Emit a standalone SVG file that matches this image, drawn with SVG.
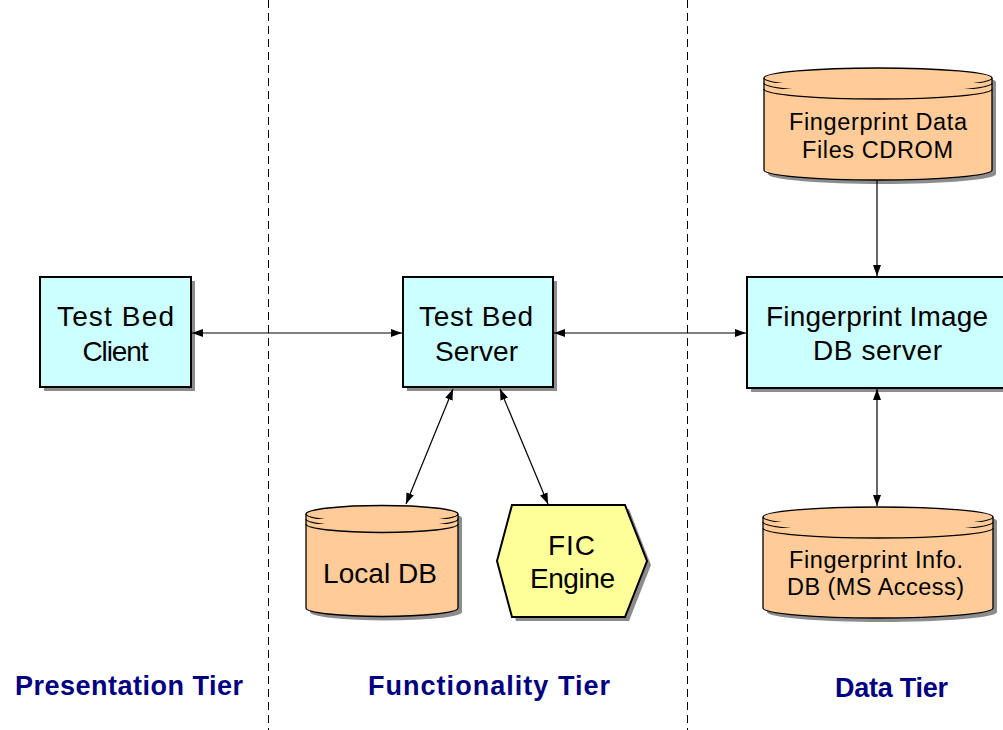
<svg xmlns="http://www.w3.org/2000/svg" width="1003" height="730" viewBox="0 0 1003 730">
<style>
.box{fill:#ccffff;stroke:#000;stroke-width:2}
.cyl{fill:#ffcc99;stroke:#000;stroke-width:1.3}
.hex{fill:#ffff99;stroke:#000;stroke-width:2}
.shadow{fill:#8c8c8c;stroke:none}
.t{font-family:"Liberation Sans",Arial,sans-serif;fill:#000;text-anchor:middle}
.big{font-size:28px}
.small{font-size:23.5px}
.tier{font-family:"Liberation Sans",Arial,sans-serif;font-weight:bold;font-size:27px;fill:#000080;text-anchor:middle}
.divider{stroke:#000;stroke-width:1;stroke-dasharray:8 5}
.conn{stroke:#000;stroke-width:1.2;fill:none}
</style>
<defs>
<marker id="arr" markerUnits="userSpaceOnUse" markerWidth="12" markerHeight="9" refX="11" refY="4" orient="auto-start-reverse">
<path d="M0,0 L11,4 L0,8 z" fill="#000"/>
</marker>
</defs>
<rect width="1003" height="730" fill="#fff"/>
<g id="dividers">
<line class="divider" x1="268.5" y1="0" x2="268.5" y2="730"/>
<line class="divider" x1="687.5" y1="0" x2="687.5" y2="730"/>
</g>
<g id="client">
<rect class="shadow" x="44" y="281" width="151" height="110"/>
<rect class="box" x="40" y="277" width="151" height="110"/>
<text class="t big" x="115.5" y="326" textLength="117" lengthAdjust="spacing">Test Bed</text>
<text class="t big" x="115.5" y="361" textLength="66" lengthAdjust="spacing">Client</text>
</g>
<g id="server">
<rect class="shadow" x="407" y="281" width="150" height="110"/>
<rect class="box" x="403" y="277" width="150" height="110"/>
<text class="t big" x="476" y="326" textLength="114" lengthAdjust="spacing">Test Bed</text>
<text class="t big" x="476.5" y="361" textLength="83" lengthAdjust="spacing">Server</text>
</g>
<g id="fpimage">
<rect class="shadow" x="751" y="281" width="260" height="111"/>
<rect class="box" x="747" y="277" width="260" height="111"/>
<text class="t big" x="877" y="326" textLength="222" lengthAdjust="spacing">Fingerprint Image</text>
<text class="t big" x="877.5" y="360" textLength="129" lengthAdjust="spacing">DB server</text>
</g>
<g id="cdrom">
<path class="shadow" d="M768,82 A114,10 0 0 1 996,82 L996,174 A114,10 0 0 1 768,174 Z"/>
<path class="cyl" d="M764,78 A114,10 0 0 1 992,78 L992,170 A114,10 0 0 1 764,170 Z"/>
<path class="cyl" d="M764,78 A114,10 0 0 0 992,78" fill="none"/>
<path class="cyl" d="M764,83 A114,10 0 0 0 992,83" fill="none"/>
<path class="cyl" d="M764,89 A114,10 0 0 0 992,89" fill="none"/>
<text class="t small" x="878" y="130" textLength="178" lengthAdjust="spacing">Fingerprint Data</text>
<text class="t small" x="877.5" y="158" textLength="151" lengthAdjust="spacing">Files CDROM</text>
</g>
<g id="localdb">
<path class="shadow" d="M310,518 A76,8.5 0 0 1 462,518 L462,612 A76,8.5 0 0 1 310,612 Z"/>
<path class="cyl" d="M306,514 A76,8.5 0 0 1 458,514 L458,608 A76,8.5 0 0 1 306,608 Z"/>
<path class="cyl" d="M306,514 A76,8.5 0 0 0 458,514" fill="none"/>
<path class="cyl" d="M306,519 A76,8.5 0 0 0 458,519" fill="none"/>
<path class="cyl" d="M306,524 A76,8.5 0 0 0 458,524" fill="none"/>
<text class="t big" x="380" y="583" textLength="114" lengthAdjust="spacing">Local DB</text>
</g>
<g id="fic">
<polygon class="shadow" points="501,565 516,509 629,509 651,565 629,621 516,621"/>
<polygon class="hex" points="497,561 512,505 625,505 647,561 625,617 512,617"/>
<text class="t big" x="571.5" y="555" textLength="47" lengthAdjust="spacing">FIC</text>
<text class="t big" x="572.5" y="588" textLength="85" lengthAdjust="spacing">Engine</text>
</g>
<g id="infodb">
<path class="shadow" d="M767,521 A115,10 0 0 1 997,521 L997,612 A115,10 0 0 1 767,612 Z"/>
<path class="cyl" d="M763,517 A115,10 0 0 1 993,517 L993,608 A115,10 0 0 1 763,608 Z"/>
<path class="cyl" d="M763,517 A115,10 0 0 0 993,517" fill="none"/>
<path class="cyl" d="M763,522 A115,10 0 0 0 993,522" fill="none"/>
<path class="cyl" d="M763,528 A115,10 0 0 0 993,528" fill="none"/>
<text class="t small" x="876" y="568" textLength="174" lengthAdjust="spacing">Fingerprint Info.</text>
<text class="t small" x="875.5" y="595" textLength="177" lengthAdjust="spacing">DB (MS Access)</text>
</g>
<g id="connectors">
<line class="conn" x1="192" y1="333" x2="402" y2="333" marker-start="url(#arr)" marker-end="url(#arr)"/>
<line class="conn" x1="554" y1="333" x2="746" y2="333" marker-start="url(#arr)" marker-end="url(#arr)"/>
<line class="conn" x1="877" y1="180" x2="877" y2="276" marker-end="url(#arr)"/>
<line class="conn" x1="877" y1="389" x2="877" y2="506" marker-start="url(#arr)" marker-end="url(#arr)"/>
<line class="conn" x1="453" y1="389" x2="406" y2="504" marker-start="url(#arr)" marker-end="url(#arr)"/>
<line class="conn" x1="500" y1="389" x2="548" y2="504" marker-start="url(#arr)" marker-end="url(#arr)"/>
</g>
<g id="labels">
<text class="tier" x="129" y="695" textLength="228" lengthAdjust="spacing">Presentation Tier</text>
<text class="tier" x="489" y="695" textLength="242" lengthAdjust="spacing">Functionality Tier</text>
<text class="tier" x="891.5" y="697" textLength="113" lengthAdjust="spacing">Data Tier</text>
</g>
</svg>
